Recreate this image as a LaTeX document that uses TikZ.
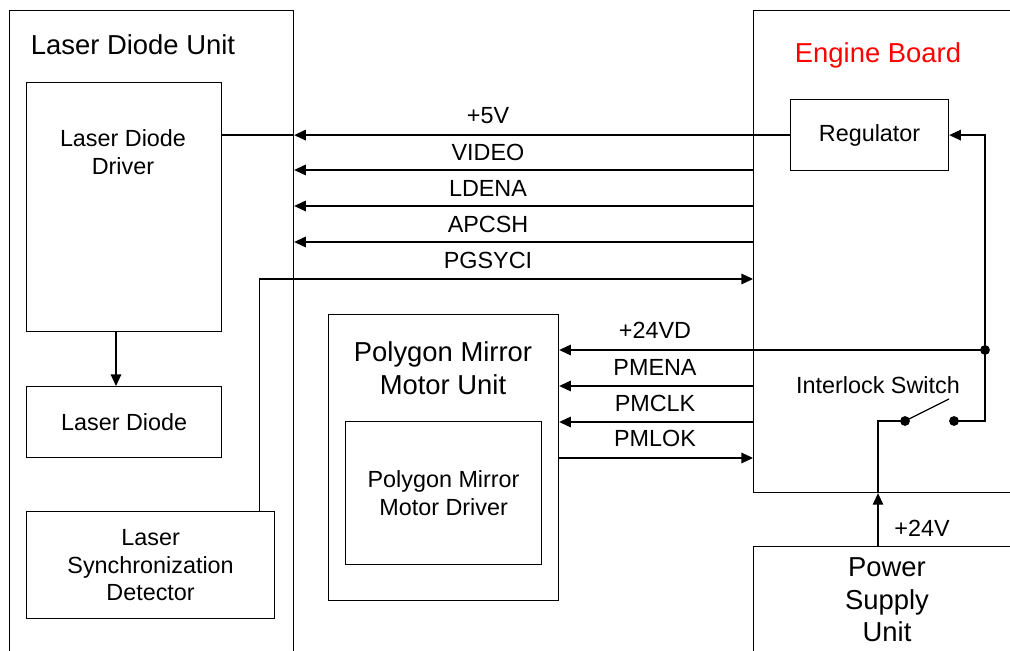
\documentclass[tikz,border=0pt]{standalone}
\usepackage{fontspec}
\setmainfont{Liberation Sans}
\usetikzlibrary{arrows.meta}
\definecolor{boardred}{RGB}{255,0,0}
\newcommand{\unitfont}{\fontsize{15.6}{18.6}\selectfont}
\newcommand{\sigfont}{\fontsize{13.3}{15.9}\selectfont}

\begin{document}
\begin{tikzpicture}[x=0.02cm,y=-0.02cm, >={Triangle[length=6.6pt,width=6pt]}, line width=0.7pt,
	box/.style={draw, rectangle, inner sep=0pt, anchor=north west},
	txt/.style={align=center, font=\sigfont, inner sep=0pt},
	bigtxt/.style={align=center, font=\unitfont, inner sep=0pt},
	sig/.style={->}]

\useasboundingbox (0,0) rectangle (1010,651);
\clip (0,0) rectangle (1010,651);

% laser diode unit
\node[box, minimum width=5.68cm, minimum height=13.8cm] (ldu) at (9,10) {};
\node[bigtxt] (ldu-t) at (133,45) {Laser Diode Unit};
\node[box, minimum width=3.9cm, minimum height=4.98cm] (ldd) at (26,82) {};
\node[txt] (ldd-t) at (123,152) {Laser Diode\\Driver};
\node[box, txt, minimum width=3.9cm, minimum height=1.42cm] (ld) at (26,386) {Laser Diode};
\node[box, txt, minimum width=4.96cm, minimum height=2.14cm] (lsd) at (26,511) {Laser\\Synchronization\\Detector};
\draw[sig] (ldd.south -| 116,0) -- (ld.north -| 116,0);

% polygon mirror motor unit
\node[box, minimum width=4.6cm, minimum height=5.72cm] (pmu) at (328,314) {};
\node[bigtxt] (pmu-t) at (443,368) {Polygon Mirror\\Motor Unit};
\node[box, txt, minimum width=3.92cm, minimum height=2.86cm] (pmd) at (345,421) {Polygon Mirror\\Motor Driver};

% engine board and power supply
\node[box, minimum width=6.94cm, minimum height=9.64cm] (eb) at (753,10) {};
\node[bigtxt, text=boardred] (eb-t) at (878,55) {Engine Board};
\node[box, txt, minimum width=3.16cm, minimum height=1.42cm] (reg) at (790,99) {Regulator};
\node[box, minimum width=6.94cm, minimum height=3.08cm] (psu) at (753,546) {};
\node[bigtxt] (psu-t) at (887,600) {Power\\Supply\\Unit};

% signals to the laser diode unit
\draw[sig] (reg.west) -- (ldu.east |- reg.west);
\draw (ldu.east |- reg.west) -- (ldd.east |- reg.west);
\foreach \y in {170,206,242}
	\draw[sig] (eb.west |- 0,\y) -- (ldu.east |- 0,\y);
\draw[sig] (lsd.north east) ++(-16,0) |- (eb.west |- 0,279);
\foreach \y/\lbl in {116/+5V,152/VIDEO,188/LDENA,224/APCSH,260/PGSYCI}
	\node[txt] (ls\y) at (488,\y) {\lbl};

% signals to the motor unit
\coordinate (jn) at (985,350);
\draw[sig] (jn) -- (pmu.east |- jn);
\foreach \y in {386,422}
	\draw[sig] (eb.west |- 0,\y) -- (pmu.east |- 0,\y);
\draw[sig] (pmu.east |- 0,458) -- (eb.west |- 0,458);
\foreach \y/\lbl in {330/+24VD,367/PMENA,403/PMCLK,438/PMLOK}
	\node[txt] (ms\y) at (655,\y) {\lbl};

% interlock switch
\coordinate (swl) at (905,421);
\coordinate (swr) at (954,421);
\coordinate (pw) at (878,546);
\node[txt] (isw-t) at (878,385) {Interlock Switch};
\draw[sig] (swr) -- (swr -| jn) |- (reg.east);
\draw (swl) -- (949,399);
\fill (jn) circle (2.8pt) (swl) circle (2.8pt) (swr) circle (2.8pt);
\draw[sig] (pw) -- (pw |- eb.south);
\draw (pw |- eb.south) |- (swl);
\node[txt] (v24-t) at (922,528) {+24V};

\end{tikzpicture}
\end{document}
